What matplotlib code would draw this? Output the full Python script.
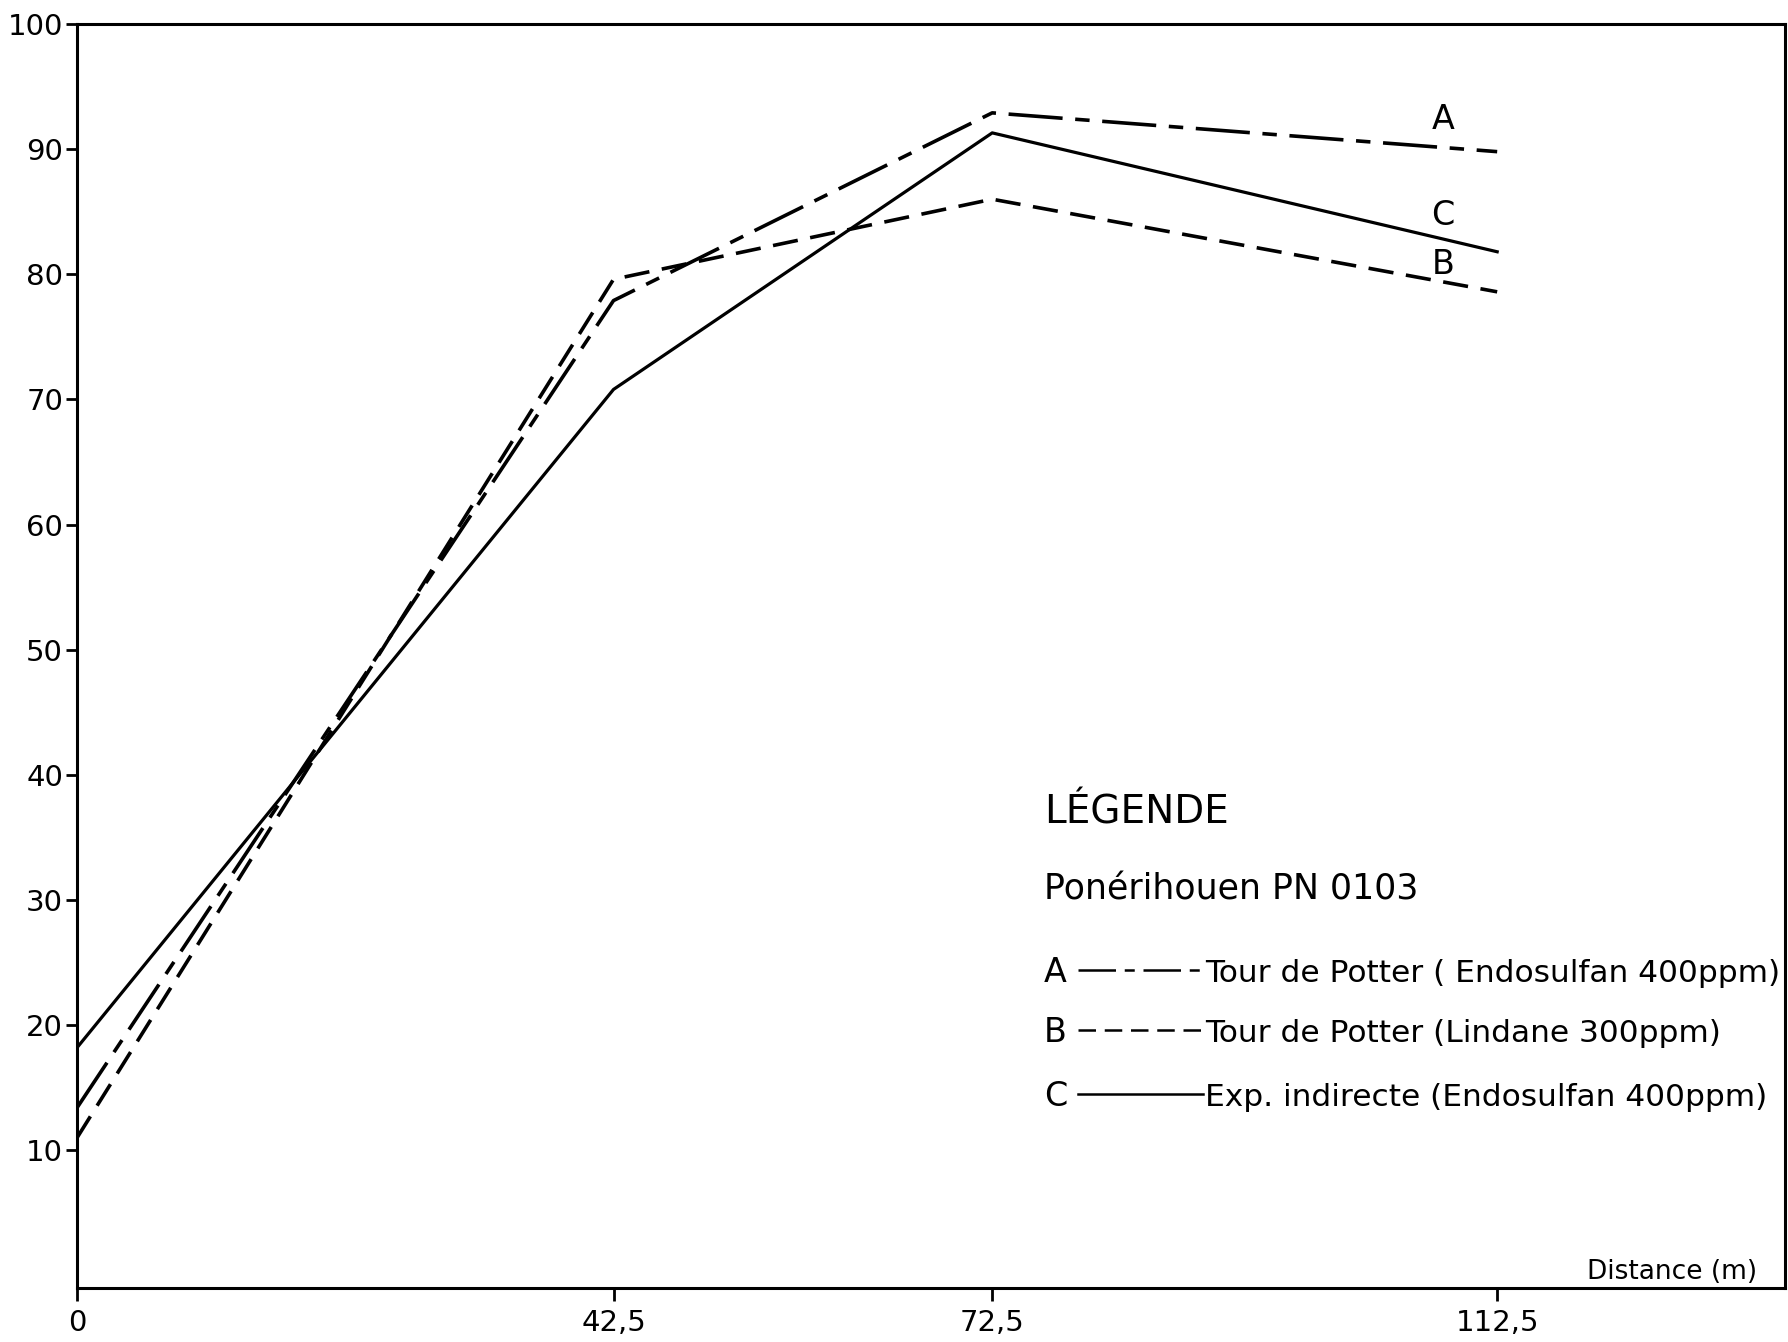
import matplotlib
matplotlib.use("Agg")
import matplotlib.pyplot as plt
from matplotlib.lines import Line2D

# ---- data ----
distance = [0, 42.5, 72.5, 112.5]
x_tick_labels = ["0", "42,5", "72,5", "112,5"]
y_ticks = [10, 20, 30, 40, 50, 60, 70, 80, 90, 100]

serie_A = [13.4, 77.9, 92.9, 89.8]   # Tour de Potter (Endosulfan 400ppm)
serie_B = [11.0, 79.6, 86.0, 78.6]   # Tour de Potter (Lindane 300ppm)
serie_C = [18.2, 70.8, 91.3, 81.8]   # Exp. indirecte (Endosulfan 400ppm)

legend_title = "LÉGENDE"
legend_sub = "Ponérihouen PN 0103"
legend_letters = ["A", "B", "C"]
legend_texts = ["Tour de Potter ( Endosulfan 400ppm)",
                "Tour de Potter (Lindane 300ppm)",
                "Exp. indirecte (Endosulfan 400ppm)"]

plt.rcParams['font.family'] = ['DejaVu Sans']

W, H = 1788, 1342
fig = plt.figure(figsize=(W / 100, H / 100), dpi=100)
fig.patch.set_facecolor("white")

def fx(px):
    return px / W

def fy(py):
    return 1 - py / H

ax = fig.add_axes([fx(77), fy(1288), (1785 - 77) / W, (1288 - 24) / H])
ax.set_xlim(0, 135.3)
ax.set_ylim(-1, 100)

dash_A = (0, (15, 3.5, 4, 3.5))
dash_B = (0, (7, 3.5))
lw = 2.6

ax.plot(distance, serie_A, color="black", lw=lw, linestyle=dash_A, solid_joinstyle="miter")
ax.plot(distance, serie_B, color="black", lw=lw, linestyle=dash_B)
ax.plot(distance, serie_C, color="black", lw=2.3, linestyle="-")

# curve labels
ax.text(108.2, 92.4, "A", fontsize=24, ha="center", va="center")
ax.text(108.2, 84.7, "C", fontsize=24, ha="center", va="center")
ax.text(108.2, 80.8, "B", fontsize=24, ha="center", va="center")

ax.set_xticks(distance)
ax.set_xticklabels(x_tick_labels)
ax.set_yticks(y_ticks)
ax.set_yticklabels([str(v) for v in y_ticks])
ax.tick_params(axis="x", direction="out", length=9, width=2, labelsize=21, pad=6,
               colors="black")
ax.tick_params(axis="y", direction="out", length=8, width=2, labelsize=21, pad=2,
               colors="black")
for s in ax.spines.values():
    s.set_linewidth(2.2)
    s.set_color("black")

ax.text(0.9836, 0.0072, "Distance (m)", transform=ax.transAxes, fontsize=19,
        ha="right", va="baseline")

# legend block
fig.text(fx(1044), fy(824), legend_title, fontsize=28, ha="left", va="baseline")
fig.text(fx(1044), fy(899), legend_sub, fontsize=25, ha="left", va="baseline")
baselines = [982, 1042, 1106]
styles = [dash_A, dash_B, "-"]
for letter, txt, base, st in zip(legend_letters, legend_texts, baselines, styles):
    fig.text(fx(1044), fy(base), letter, fontsize=24, ha="left", va="baseline")
    ymid = fy(base - 12)
    fig.add_artist(Line2D([fx(1078), fx(1203)], [ymid, ymid], transform=fig.transFigure,
                          color="black", lw=1.8, linestyle=st))
    fig.text(fx(1205), fy(base), txt, fontsize=22.5, ha="left", va="baseline")

fig.savefig("out.png", dpi=100, facecolor="white")
